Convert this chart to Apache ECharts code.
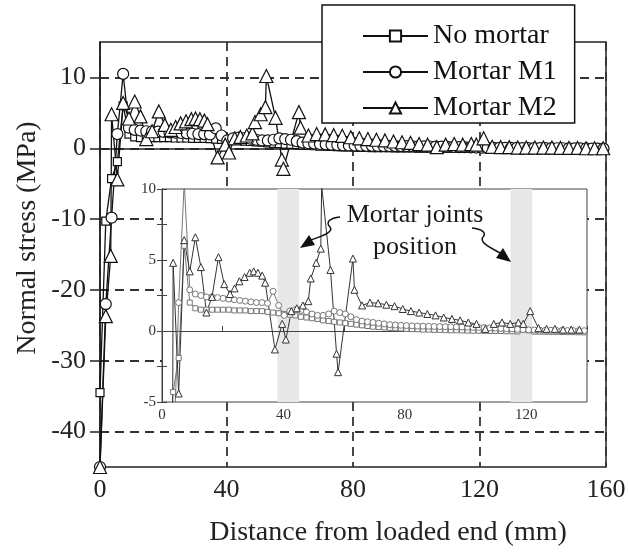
<!DOCTYPE html>
<html>
<head>
<meta charset="utf-8">
<script src="https://cdn.jsdelivr.net/npm/echarts@6/dist/echarts.min.js"></script>
<style>
  html, body { margin: 0; padding: 0; background: #fff; }
  #chart { width: 629px; height: 556px; }
</style>
</head>
<body>
<div id="chart"></div>
<script>
// Normal stress along the bar, measured from the loaded end (mm)
const seriesNames = ['No mortar', 'Mortar M1', 'Mortar M2'];

// Gauge positions shared by the "No mortar" and "Mortar M1" specimens
const distance = [
  0, 1.83, 3.66, 5.49, 7.32, 9.15, 10.98, 12.81, 14.64, 16.47,
  18.3, 20.13, 21.96, 23.79, 25.62, 27.45, 29.28, 31.11, 32.94, 34.77,
  36.6, 38.43, 40.26, 42.09, 43.92, 45.75, 47.58, 49.41, 51.24, 53.07,
  54.9, 56.73, 58.56, 60.39, 62.22, 64.05, 65.88, 67.71, 69.54, 71.37,
  73.2, 75.03, 76.86, 78.69, 80.52, 82.35, 84.18, 86.01, 87.84, 89.67,
  91.5, 93.33, 95.16, 96.99, 98.82, 100.65, 102.48, 104.31, 106.14, 107.97,
  109.8, 111.63, 113.46, 115.29, 117.12, 118.95, 120.78, 122.61, 124.44, 126.27,
  128.1, 129.93, 131.76, 133.59, 135.42, 137.25, 139.08, 140.91, 142.74, 144.57,
  146.4, 148.23, 150.06, 151.89, 153.72, 155.55, 157.38, 159.21
];

const stressNoMortar = [
  -34.5, -10.3, -4.3, -1.9, 6.0, 2.0, 1.6, 1.5, 1.5, 1.5,
  1.5, 1.5, 1.5, 1.45, 1.45, 1.45, 1.4, 1.4, 1.4, 1.35,
  1.3, 1.25, 1.2, 1.15, 1.1, 1.0, 0.95, 0.9, 0.85, 0.75,
  0.7, 0.65, 0.6, 0.55, 0.5, 0.45, 0.4, 0.35, 0.3, 0.28,
  0.25, 0.22, 0.2, 0.18, 0.15, 0.13, 0.12, 0.1, 0.1, 0.08,
  0.08, 0.06, 0.05, 0.05, 0.04, 0.03, 0.02, 0.02, 0.01, 0,
  0, 0, -0.02, -0.02, -0.03, 0.1, 0.05, -0.04, -0.05, -0.05,
  -0.06, -0.06, -0.07, -0.08, -0.08, -0.09, -0.1, -0.1, -0.1, -0.12,
  -0.12, -0.13, -0.14, -0.15, -0.15, -0.16, -0.17, -0.18
];

const stressM1 = [
  -45, -22, -9.8, 2.0, 10.5, 2.9, 2.6, 2.5, 2.4, 2.4,
  2.35, 2.3, 2.25, 2.2, 2.15, 2.1, 2.05, 2.0, 2.0, 1.95,
  2.8, 1.8, 1.1, 1.4, 1.5, 1.45, 1.35, 1.2, 1.1, 1.1,
  1.2, 1.4, 1.3, 1.2, 1.0, 0.8, 0.7, 0.65, 0.6, 0.55,
  0.5, 0.45, 0.42, 0.4, 0.38, 0.36, 0.35, 0.34, 0.33, 0.32,
  0.31, 0.3, 0.3, 0.29, 0.28, 0.27, 0.26, 0.25, 0.24, 0.22,
  0.2, 0.18, 0.16, 0.15, 0.12, 0.1, 0.08, 0.07, 0.06, 0.05,
  0.05, 0.04, 0.04, 0.03, 0.03, 0.02, 0.02, 0.01, 0.01, 0,
  0, -0.01, -0.02, -0.02, -0.03, -0.04, -0.05, -0.05
];

// "Mortar M2" specimen has its own gauge positions
const distanceM2 = [
  0, 1.83, 3.4, 3.66, 5.49, 7.32, 9.15, 10.98, 12.81, 14.64,
  16.47, 18.6, 20.5, 22.4, 23.9, 25.5, 27.2, 28.9, 30.2, 31.6,
  33.0, 34.0, 37.2, 39.6, 40.8, 42.6, 44.4, 46.4, 48.2, 49.0,
  50.8, 52.3, 52.6, 55.5, 57.5, 58.0, 62.9, 63.4, 65.9, 68.5,
  71.2, 73.9, 76.6, 79.3, 82.0, 84.7, 87.4, 90.1, 92.8, 95.5,
  98.2, 100.9, 103.6, 106.5, 109.3, 112.0, 114.7, 117.4, 119.0, 121.3,
  124.0, 126.7, 129.4, 132.1, 134.8, 137.5, 140.2, 142.9, 145.6, 148.3,
  151.0, 153.7, 156.4, 159.1
];

const stressM2 = [
  -45, -23.7, -15.2, 4.8, -4.4, 6.4, 4.2, 6.6, 4.5, 1.3,
  2.4, 5.2, 3.3, 2.6, 3.0, 3.5, 3.8, 4.1, 4.2, 4.1,
  3.9, 3.4, -1.3, 0.5, -0.6, 1.4, 1.6, 1.8, 2.1, 3.7,
  4.8, 5.8, 10.2, 4.3, -1.6, -2.9, 5.1, 2.9, 1.8, 2.0,
  1.95, 1.85, 1.75, 1.55, 1.4, 1.3, 1.2, 1.1, 0.95, 0.85,
  0.75, 0.6, 0.5, 0.15, 0.5, 0.6, 0.5, 0.6, 0.5, 1.4,
  0.2, 0.15, 0.15, 0.1, 0.1, 0.1, 0.1, 0.1, 0.05, 0.05,
  0.05, 0, 0, 0
];

// Mortar joint zones (mm) shaded in the detail view
const jointZones = [[38.0, 45.2], [114.8, 122.0]];

// Tick values
const mainXTicks = [0, 40, 80, 120, 160];
const mainYTicks = [-40, -30, -20, -10, 0, 10];

const FONT = '"Liberation Serif", "Times New Roman", serif';
const INK = '#111';

const pairs = (xs, ys) => xs.map((x, i) => [x, ys[i]]);

const markerStyles = [
  { symbol: 'rect', main: 8, detail: 5 },
  { symbol: 'circle', main: 11, detail: 6 },
  { symbol: 'triangle', main: 13, detail: 7 }
];
const datasets = [
  pairs(distance, stressNoMortar),
  pairs(distance, stressM1),
  pairs(distanceM2, stressM2)
];

const series = [];
// full-range curves
datasets.forEach((data, i) => {
  series.push({
    name: seriesNames[i],
    type: 'line',
    xAxisIndex: 0, yAxisIndex: 0,
    data: data,
    symbol: markerStyles[i].symbol,
    symbolSize: markerStyles[i].main,
    showAllSymbol: true,
    clip: true,
    z: 2,
    lineStyle: { color: INK, width: 1.3 },
    itemStyle: { color: '#fff', borderColor: INK, borderWidth: 1.2 },
    emphasis: { disabled: true },
    animation: false
  });
});
// close-up curves
const detailInk = ['#777', '#777', '#333'];
datasets.forEach((data, i) => {
  const s = {
    name: seriesNames[i],
    type: 'line',
    xAxisIndex: 1, yAxisIndex: 1,
    data: data,
    symbol: markerStyles[i].symbol,
    symbolSize: markerStyles[i].detail,
    showAllSymbol: true,
    clip: true,
    z: 6,
    lineStyle: { color: detailInk[i], width: 1 },
    itemStyle: { color: '#fff', borderColor: detailInk[i], borderWidth: 1 },
    emphasis: { disabled: true },
    animation: false
  };
  if (i === 0) {
    s.markArea = {
      silent: true,
      z: 4,
      itemStyle: { color: '#e8e8e8' },
      data: jointZones.map(z => [{ xAxis: z[0] }, { xAxis: z[1] }])
    };
  }
  series.push(s);
});

// wavy leader lines from the annotation to the joint zones
const leader = (x1, y1, cpx1, cpy1, cpx2, cpy2, x2, y2) => ({
  type: 'bezierCurve', z: 9,
  shape: { x1, y1, cpx1, cpy1, cpx2, cpy2, x2, y2 },
  style: { stroke: INK, lineWidth: 1.5, fill: null }
});

const option = {
  backgroundColor: '#fff',
  animation: false,
  grid: [
    { left: 100, top: 42, width: 506, height: 425, show: true,
      borderColor: '#222', borderWidth: 1.5, backgroundColor: 'transparent', z: 0 },
    { left: 162, top: 189, width: 425, height: 213, show: true,
      borderColor: '#444', borderWidth: 1, backgroundColor: '#fff', z: 3 }
  ],
  xAxis: [
    { gridIndex: 0, type: 'value', min: 0, max: 160, interval: 40,
      axisLine: { lineStyle: { color: '#222', width: 1.5 } },
      axisTick: { show: false },
      axisLabel: { fontFamily: FONT, fontSize: 26, color: '#222', margin: 10,
        customValues: mainXTicks },
      splitLine: { show: true, lineStyle: { color: '#333', width: 1.8, type: [9, 6] } },
      z: 0 },
    { gridIndex: 1, type: 'value', min: 0, max: 140, interval: 20,
      axisLine: { lineStyle: { color: '#444', width: 1 } },
      axisTick: { show: true, inside: true, length: 5, lineStyle: { color: '#444' } },
      axisLabel: { fontFamily: FONT, fontSize: 15, color: '#333', margin: 6,
        formatter: v => (v % 40 === 0 ? String(v) : '') },
      splitLine: { show: false },
      z: 5 },
    { gridIndex: 1, type: 'value', position: 'top', min: 0, max: 140, interval: 20,
      axisLine: { lineStyle: { color: '#444', width: 1 } },
      axisTick: { show: true, inside: false, length: 5, lineStyle: { color: '#444' } },
      axisLabel: { show: false },
      splitLine: { show: false },
      z: 5 }
  ],
  yAxis: [
    { gridIndex: 0, type: 'value', min: -45, max: 15, interval: 5,
      axisLine: { show: true, lineStyle: { color: '#222', width: 1.5 } },
      axisTick: { show: true, length: 10, customValues: mainYTicks,
        lineStyle: { color: '#222', width: 1.5 } },
      axisLabel: { fontFamily: FONT, fontSize: 26, color: '#222', margin: 14,
        customValues: mainYTicks },
      splitLine: { show: true, lineStyle: { color: '#333', width: 1.8, type: [9, 6] } },
      z: 0 },
    { gridIndex: 1, type: 'value', min: -5, max: 10, interval: 2.5,
      axisLine: { show: true, lineStyle: { color: '#444', width: 1 } },
      axisTick: { show: true, length: 5, lineStyle: { color: '#444' } },
      axisLabel: { fontFamily: FONT, fontSize: 15, color: '#333', margin: 6,
        formatter: v => (v % 5 === 0 ? String(v) : '') },
      splitLine: { show: false },
      z: 5 },
    { gridIndex: 1, type: 'value', position: 'right', min: -5, max: 10, interval: 2.5,
      axisLine: { show: true, lineStyle: { color: '#444', width: 1 } },
      axisTick: { show: true, length: 5, lineStyle: { color: '#444' } },
      axisLabel: { show: false },
      splitLine: { show: false },
      z: 5 }
  ],
  legend: {
    data: seriesNames,
    orient: 'vertical',
    left: 322, top: 5,
    padding: [17, 18, 1, 40],
    itemWidth: 65, itemHeight: 14, itemGap: 8,
    backgroundColor: '#fff', borderColor: INK, borderWidth: 1.5,
    textStyle: { fontFamily: FONT, fontSize: 28, color: INK },
    selectedMode: false,
    z: 8
  },
  graphic: [
    { type: 'text', x: 388, y: 533, z: 9,
      style: { text: 'Distance from loaded end (mm)', font: '28px ' + FONT,
        fill: '#222', align: 'center', verticalAlign: 'middle' } },
    { type: 'text', x: 28, y: 238, rotation: Math.PI / 2, z: 9,
      style: { text: 'Normal stress (MPa)', font: '28px ' + FONT,
        fill: '#222', align: 'center', verticalAlign: 'middle' } },
    { type: 'text', x: 415, y: 215, z: 9,
      style: { text: 'Mortar joints', font: '26px ' + FONT,
        fill: '#1a1a1a', align: 'center', verticalAlign: 'middle' } },
    { type: 'text', x: 415, y: 247, z: 9,
      style: { text: 'position', font: '26px ' + FONT,
        fill: '#1a1a1a', align: 'center', verticalAlign: 'middle' } },
    leader(340, 217, 330, 218, 325, 222, 330, 227),
    leader(330, 227, 334, 232, 322, 236, 311, 240),
    { type: 'polygon', z: 9,
      shape: { points: [[300, 248], [309, 235], [315, 245]] },
      style: { fill: INK } },
    leader(472, 228, 482, 229, 487, 233, 483, 237),
    leader(483, 237, 479, 242, 489, 247, 500, 253),
    { type: 'polygon', z: 9,
      shape: { points: [[511, 262], [496, 258], [503, 248]] },
      style: { fill: INK } }
  ],
  series: series
};

const chart = echarts.init(document.getElementById('chart'), null, { renderer: 'canvas' });
chart.setOption(option);
</script>
</body>
</html>
